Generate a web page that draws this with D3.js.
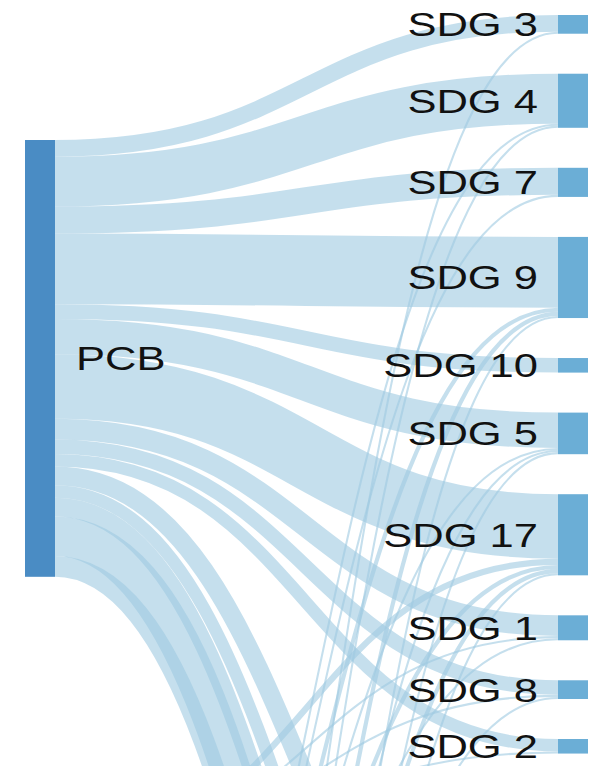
<!DOCTYPE html>
<html>
<head>
<meta charset="utf-8">
<script src="https://cdn.jsdelivr.net/npm/d3@7"></script>
<style>
  html, body { margin: 0; padding: 0; background: #fff; overflow: hidden; }
  svg { display: block; }
  text { font-family: "Liberation Sans", Arial, sans-serif; font-size: 34px; fill: #111; }
</style>
</head>
<body>
<svg id="chart" width="597" height="766"></svg>
<script>
// left column (PCB is the only one on screen, the rest sit below the fold)
var sourceNames = ["PCB", "Source 2", "Source 3", "Source 4", "Source 5"];

// right column, top to bottom
var targetNames = ["SDG 3", "SDG 4", "SDG 7", "SDG 9", "SDG 10", "SDG 5", "SDG 17", "SDG 1", "SDG 8", "SDG 2",
                   "SDG 6", "SDG 11", "SDG 12", "SDG 13", "SDG 14", "SDG 15", "SDG 16"];

// flows from each source, in targetNames order
var pcbFlows     = [8, 24, 13, 34, 7, 17, 31, 10, 7, 6, 0, 9, 6, 9, 19, 10, 0];
var source2Flows = [0, 0, 0, 0, 0, 0, 3, 1, 1, 1, 70, 24, 0, 0, 0, 0, 0];
var source3Flows = [0, 1, 1, 2, 0, 1, 2, 1, 0, 0, 25, 0, 30, 20, 0, 0, 0];
var source4Flows = [1, 1, 0, 2, 0, 1, 2, 0, 1, 0, 20, 27, 0, 31, 10, 0, 0];
var source5Flows = [0, 0, 0, 1, 0, 1, 1, 0, 0, 0, 0, 0, 14, 0, 16, 30, 40];

var flows = [pcbFlows, source2Flows, source3Flows, source4Flows, source5Flows];

var WIDTH = 597, HEIGHT = 766;
var NODE_WIDTH = 30;
var UNIT_PX = 2.08;
var COL_TOP = [140, 15];
var COL_PAD = [274, 40];
var LABEL_GAP = 20;
var TEXT_STRETCH = 1.28;

var svg = d3.select("#chart");

var xCol = d3.scaleLinear().domain([0, 1]).range([25, 558]);
var size = d3.scaleLinear().domain([0, 1]).range([0, UNIT_PX]);

// -------- build graph --------
var nodes = [];
sourceNames.forEach(function(name, i){ nodes.push({ name: name, col: 0, value: d3.sum(flows[i]) }); });
targetNames.forEach(function(name, j){ nodes.push({ name: name, col: 1, value: d3.sum(flows, function(f){ return f[j]; }) }); });

var links = [];
flows.forEach(function(row, i){
  row.forEach(function(v, j){
    if (v > 0) links.push({ source: nodes[i], target: nodes[sourceNames.length + j], value: v });
  });
});

// stack nodes in each column
[0, 1].forEach(function(c){
  var y = COL_TOP[c];
  nodes.filter(function(n){ return n.col === c; }).forEach(function(n){
    n.x0 = xCol(c); n.x1 = n.x0 + NODE_WIDTH;
    n.y0 = y; n.y1 = y + size(n.value);
    y = n.y1 + COL_PAD[c];
  });
});

// link offsets, sorted like d3-sankey does
nodes.forEach(function(n){
  var out = links.filter(function(l){ return l.source === n; }).sort(function(a, b){ return a.target.y0 - b.target.y0; });
  var inc = links.filter(function(l){ return l.target === n; }).sort(function(a, b){ return a.source.y0 - b.source.y0; });
  var y = n.y0;
  out.forEach(function(l){ l.width = size(l.value); l.y0 = y + l.width / 2; y += l.width; });
  y = n.y0;
  inc.forEach(function(l){ l.y1 = y + size(l.value) / 2; y += size(l.value); });
});

// -------- links --------
var linkPath = d3.linkHorizontal()
  .source(function(d){ return [d.source.x1, d.y0]; })
  .target(function(d){ return [d.target.x0, d.y1]; });

svg.append("g")
  .attr("fill", "none")
  .attr("stroke", "#9ecae1")
  .attr("stroke-opacity", 0.6)
  .selectAll("path")
  .data(links)
  .enter()
  .append("path")
  .attr("d", linkPath)
  .attr("stroke-width", function(d){ return Math.max(1, d.width); });

// -------- nodes --------
svg.append("g")
  .selectAll("rect")
  .data(nodes)
  .enter()
  .append("rect")
  .attr("x", function(d){ return d.x0; })
  .attr("y", function(d){ return d.y0; })
  .attr("width", function(d){ return d.x1 - d.x0; })
  .attr("height", function(d){ return d.y1 - d.y0; })
  .attr("fill", function(d){ return d.col === 0 ? "#4a8cc4" : "#6baed6"; });

// -------- labels (only the nodes that are in view) --------
svg.append("g")
  .selectAll("text")
  .data(nodes.filter(function(d){ return d.y0 < HEIGHT; }))
  .enter()
  .append("text")
  .attr("transform", function(d){
    var x = d.col === 0 ? d.x1 + LABEL_GAP + 1 : d.x0 - LABEL_GAP;
    return "translate(" + x + "," + (d.y0 + d.y1) / 2 + ") scale(" + TEXT_STRETCH + ",1)";
  })
  .attr("dy", "0.35em")
  .attr("text-anchor", function(d){ return d.col === 0 ? "start" : "end"; })
  .text(function(d){ return d.name; });
</script>
</body>
</html>
